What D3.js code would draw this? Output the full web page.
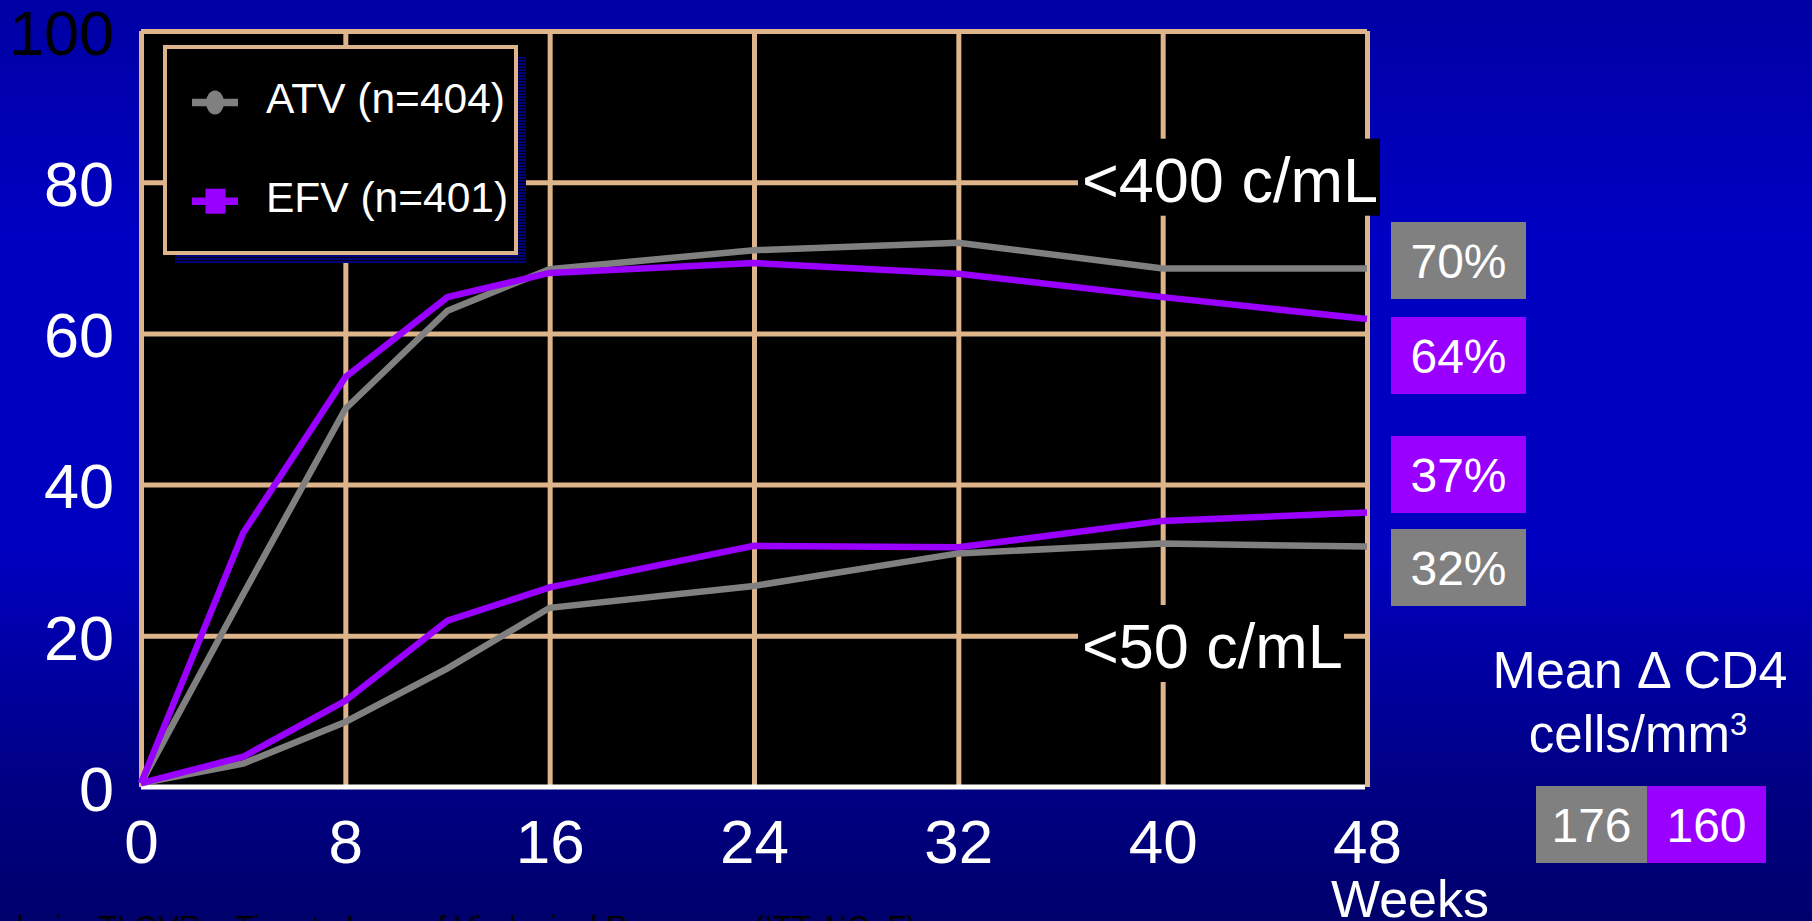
<!DOCTYPE html>
<html>
<head>
<meta charset="utf-8">
<script src="https://cdn.jsdelivr.net/npm/d3@7"></script>
<style>
  html, body { margin: 0; padding: 0; background: #00009a; overflow: hidden; }
  svg { display: block; font-family: "Liberation Sans", Arial, sans-serif; }
</style>
</head>
<body>
<svg id="chart" width="1812" height="921"></svg>
<script>
// Study weeks and proportion of patients responding (%)
const weeks = [0, 4, 8, 12, 16, 24, 32, 40, 48];
const atvBelow400 = [0.5, 25.5, 50.0, 63.0, 68.5, 71.0, 72.0, 68.6, 68.6];
const efvBelow400 = [0.5, 33.6, 54.2, 64.8, 68.0, 69.3, 67.9, 64.8, 61.9];
const atvBelow50  = [0.5, 3.1, 8.6, 15.7, 23.7, 26.6, 30.9, 32.2, 31.8];
const efvBelow50  = [0.5, 4.0, 11.4, 22.0, 26.4, 31.9, 31.7, 35.2, 36.3];

const xTicks = [0, 8, 16, 24, 32, 40, 48];
const yTicks = [0, 20, 40, 60, 80, 100];

const legendLabels = ["ATV (n=404)", "EFV (n=401)"];
const thresholdLabels = ["<400 c/mL", "<50 c/mL"];
const week48Labels = ["70%", "64%", "37%", "32%"];
const week48Arms = ["ATV", "EFV", "EFV", "ATV"];
const cd4Arms = ["ATV", "EFV"];
const cd4Change = [176, 160];

const armColor = { ATV: "#808080", EFV: "#9900ff" };
const gridColor = "#deb48a";

(function draw() {
  const svg = d3.select("#chart");
  const W = 1812, H = 921;

  // Background gradient
  const defs = svg.append("defs");
  const bg = defs.append("linearGradient").attr("id", "bg")
    .attr("x1", 0).attr("y1", 0).attr("x2", 0).attr("y2", 1);
  [[0, "#0000a4"], [0.25, "#0000c2"], [0.6, "#0000c0"], [0.85, "#000084"], [1, "#00006c"]]
    .forEach(([o, c]) => bg.append("stop").attr("offset", o).attr("stop-color", c));
  svg.append("rect").attr("width", W).attr("height", H).attr("fill", "url(#bg)");

  // Striped shadow pattern for the legend
  const pat = defs.append("pattern").attr("id", "shadowStripes")
    .attr("patternUnits", "userSpaceOnUse").attr("width", 8).attr("height", 3);
  pat.append("rect").attr("width", 8).attr("height", 3).attr("fill", "#000010");
  pat.append("rect").attr("width", 8).attr("height", 2).attr("fill", "#00007a");

  // Plot area
  const pLeft = 141, pRight = 1367, pTop = 31, pBottom = 787;
  const x = d3.scaleLinear().domain([0, 48]).range([pLeft, pRight]);
  const y = d3.scaleLinear().domain([0, 100]).range([pBottom, pTop]);

  svg.append("rect")
    .attr("x", pLeft).attr("y", pTop)
    .attr("width", pRight - pLeft).attr("height", pBottom - pTop)
    .attr("fill", "#000");

  // Gridlines
  const gx = svg.append("g").attr("transform", `translate(0,${pBottom})`)
    .call(d3.axisBottom(x).tickValues(xTicks).tickSize(-(pBottom - pTop)).tickFormat(""));
  gx.select(".domain").remove();
  gx.selectAll(".tick line").attr("stroke", gridColor).attr("stroke-width", 5);

  const gy = svg.append("g").attr("transform", `translate(${pLeft},0)`)
    .call(d3.axisLeft(y).tickValues(yTicks.filter(v => v > 0)).tickSize(-(pRight - pLeft)).tickFormat(""));
  gy.select(".domain").remove();
  gy.selectAll(".tick line").attr("stroke", gridColor).attr("stroke-width", 5);

  // X axis baseline
  svg.append("line")
    .attr("x1", x(0)).attr("x2", x(48) - 2)
    .attr("y1", y(0)).attr("y2", y(0))
    .attr("stroke", "#fff").attr("stroke-width", 5);

  // Response curves
  const line = d3.line().x((d, i) => x(weeks[i])).y(d => y(d));
  const series = [
    { values: atvBelow400, arm: "ATV" },
    { values: atvBelow50, arm: "ATV" },
    { values: efvBelow400, arm: "EFV" },
    { values: efvBelow50, arm: "EFV" }
  ];
  svg.append("g").selectAll("path").data(series).join("path")
    .attr("d", d => line(d.values))
    .attr("fill", "none")
    .attr("stroke", d => armColor[d.arm])
    .attr("stroke-width", 6.5)
    .attr("stroke-linejoin", "miter");

  // Axis labels
  const ax = svg.append("g").attr("transform", `translate(0,${pBottom})`)
    .call(d3.axisBottom(x).tickValues(xTicks).tickSize(0).tickPadding(32));
  ax.select(".domain").remove();
  ax.selectAll("text").attr("fill", "#fff").attr("font-size", 62)
    .attr("font-family", "Liberation Sans, Arial, sans-serif");

  const ay = svg.append("g").attr("transform", `translate(${pLeft},0)`)
    .call(d3.axisLeft(y).tickValues(yTicks).tickSize(0).tickPadding(27));
  ay.select(".domain").remove();
  ay.selectAll("text")
    .attr("fill", d => d === 100 ? "#000" : "#fff")
    .attr("font-size", 63).attr("dy", "0.37em")
    .attr("font-family", "Liberation Sans, Arial, sans-serif");

  svg.append("text").attr("x", 1331).attr("y", 917)
    .attr("fill", "#fff").attr("font-size", 52).text("Weeks");

  // Legend
  const lg = { x: 165, y: 47, w: 351, h: 206 };
  svg.append("rect").attr("x", lg.x + 10).attr("y", lg.y + 10)
    .attr("width", lg.w).attr("height", lg.h).attr("fill", "url(#shadowStripes)");
  svg.append("rect").attr("x", lg.x).attr("y", lg.y)
    .attr("width", lg.w).attr("height", lg.h)
    .attr("fill", "#000").attr("stroke", gridColor).attr("stroke-width", 4);

  const entries = svg.append("g").selectAll("g").data(legendLabels).join("g")
    .attr("transform", (d, i) => `translate(0,${113 + i * 98.7})`);
  entries.append("line")
    .attr("x1", 192).attr("x2", 238).attr("y1", -10.5).attr("y2", -10.5)
    .attr("stroke", (d, i) => armColor[["ATV", "EFV"][i]]).attr("stroke-width", 7.5);
  entries.filter((d, i) => i === 0).append("ellipse")
    .attr("cx", 215).attr("cy", -10.5).attr("rx", 9).attr("ry", 12)
    .attr("fill", armColor.ATV);
  entries.filter((d, i) => i === 1).append("rect")
    .attr("x", 205.5).attr("y", -23).attr("width", 20).attr("height", 25)
    .attr("fill", armColor.EFV);
  entries.append("text").attr("x", 266).attr("y", 0)
    .attr("fill", "#fff").attr("font-size", 42.5).text(d => d);

  // Threshold labels on black patches
  const thresholdBaselines = [201.7, 668];
  const thresholdWidths = [302, 266];
  thresholdLabels.forEach((t, i) => {
    const b = thresholdBaselines[i];
    svg.append("rect").attr("x", 1078).attr("y", b - 63)
      .attr("width", thresholdWidths[i]).attr("height", 77).attr("fill", "#000");
    svg.append("text").attr("x", 1082).attr("y", b)
      .attr("fill", "#fff").attr("font-size", 63).text(t);
  });

  // Week 48 response boxes
  const boxTops = [222, 317, 436, 529];
  week48Labels.forEach((t, i) => {
    svg.append("rect").attr("x", 1391).attr("y", boxTops[i])
      .attr("width", 135).attr("height", 77).attr("fill", armColor[week48Arms[i]]);
    svg.append("text").attr("x", 1458.5).attr("y", boxTops[i] + 38.5)
      .attr("dy", "0.36em").attr("text-anchor", "middle")
      .attr("fill", "#fff").attr("font-size", 48).text(t);
  });

  // Mean CD4 change
  svg.append("text").attr("x", 1640).attr("y", 688).attr("text-anchor", "middle")
    .attr("fill", "#fff").attr("font-size", 52).text("Mean \u0394 CD4");
  const unit = svg.append("text").attr("x", 1638).attr("y", 752).attr("text-anchor", "middle")
    .attr("fill", "#fff").attr("font-size", 51);
  unit.append("tspan").text("cells/mm");
  unit.append("tspan").attr("font-size", 31).attr("dy", -17).text("3");

  const cdX = [1536, 1647], cdW = [111, 119];
  cd4Change.forEach((v, i) => {
    svg.append("rect").attr("x", cdX[i]).attr("y", 786)
      .attr("width", cdW[i]).attr("height", 77).attr("fill", armColor[cd4Arms[i]]);
    svg.append("text").attr("x", cdX[i] + cdW[i] / 2).attr("y", 824.5)
      .attr("dy", "0.36em").attr("text-anchor", "middle")
      .attr("fill", "#fff").attr("font-size", 48).text(v);
  });

  // Footnote (runs past the lower edge)
  svg.append("text").attr("x", 86).attr("y", 938).attr("text-anchor", "end")
    .attr("fill", "#000").attr("font-size", 31).text("Analysis:");
  svg.append("text").attr("x", 98).attr("y", 938)
    .attr("fill", "#000").attr("font-size", 31)
    .text("TLOVR \u2013 Time to Loss of Virological Response (ITT, NC=F)");
})();
</script>
</body>
</html>
